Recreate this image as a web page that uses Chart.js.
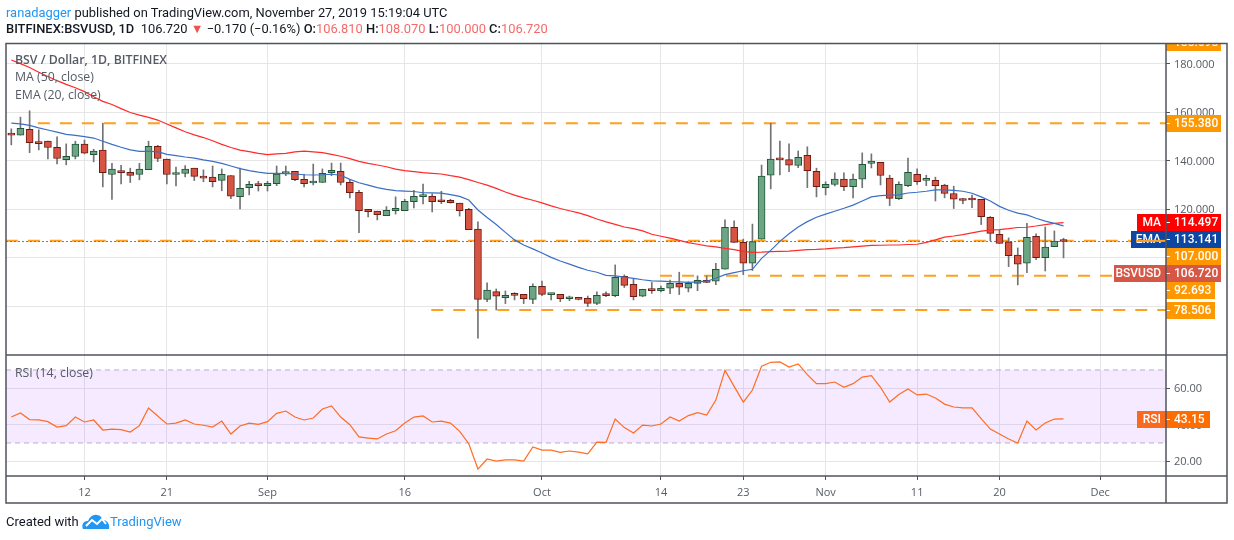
<!DOCTYPE html>
<html>
<head>
<meta charset="utf-8">
<title>BSV / Dollar</title>
<script src="https://cdn.jsdelivr.net/npm/chart.js@4"></script>
<style>
    html, body { margin: 0; padding: 0; background: #fff; }
    #wrap { position: relative; width: 1234px; height: 540px; overflow: hidden; font-family: Roboto, sans-serif; color: #131722; }
    #priceChart { position: absolute; left: 0; top: 0; }
    .line { position: absolute; left: 6px; white-space: pre; font-size: 12.9px; line-height: 16px; }
    .blue { color: #2196f3; }
    .up { color: #f56a6a; }
    b { font-weight: 500; }
    #foot { position: absolute; left: 6px; top: 513px; font-size: 13px; line-height: 18px; white-space: pre; }
    #foot svg { position: absolute; left: 76px; top: 1px; }
    #foot span { position: absolute; left: 104px; top: 0; }
</style>
</head>
<body>
<div id="wrap">
    <canvas id="priceChart" width="1234" height="540"></canvas>
    <div class="line" style="top:5px"><span class="blue">ranadagger</span> published on TradingView.com, November 27, 2019 15:19:04 UTC</div>
    <div class="line" style="top:21px"><b>BITFINEX:BSVUSD, 1D</b>  106.720 <span style="color:#ef5350">▼</span> −0.170 (−0.16%) <b>O:</b><span class="up">106.810</span> <b>H:</b><span class="up">108.070</span> <b>L:</b><span class="up">100.000</span> <b>C:</b><span class="up">106.720</span></div>
    <div id="foot">Created with<svg width="28" height="16" viewBox="0 0 28 16"><path d="M1 15 C-1 10 2 7 6 7 C8 2 12 0 15 1 C18 1 20 4 21 6 C25 6 28 10 27 15 Z" fill="#2196f3"/><path d="M4 12 L10 6 L15 10 L20 5 L24 10" fill="none" stroke="#fff" stroke-width="2"/></svg><span class="blue">TradingView</span></div>
</div>
<script>
// daily candles, 4 Aug - 27 Nov 2019
const opens = [
    151.3, 150.5, 152.9, 147.3, 148.0, 145.5, 140.4, 141.7, 146.8, 142.5,
    144.3, 134.3, 135.6, 135.2, 134.3, 136.3, 145.9, 140.6, 134.3, 134.7,
    136.9, 133.6, 133.2, 131.9, 133.9, 125.2, 128.9, 130.4, 129.7, 130.5,
    134.7, 135.6, 132.3, 130.8, 131.0, 135.1, 135.6, 131.1, 127.0, 120.0,
    119.2, 117.4, 119.4, 119.4, 123.1, 125.2, 125.3, 123.4, 123.7, 122.5,
    120.0, 111.8, 82.9, 86.1, 83.6, 84.9, 85.0, 82.9, 88.3, 84.9,
    85.0, 83.2, 83.4, 83.4, 81.3, 84.7, 84.5, 92.4, 89.1, 84.2,
    87.1, 86.5, 87.5, 89.5, 87.5, 89.5, 90.8, 90.4, 95.3, 112.6,
    106.4, 97.8, 107.7, 134.0, 140.6, 140.4, 138.0, 142.2, 135.6, 128.9,
    130.2, 132.4, 129.3, 132.4, 138.9, 139.3, 132.8, 124.4, 129.7, 134.4,
    131.9, 131.9, 129.9, 126.5, 124.1, 124.1, 124.1, 116.7, 109.7, 106.6,
    101.1, 97.8, 108.9, 100.1, 104.6, 106.81,
];
const highs = [
    153.1, 157.9, 160.5, 152.7, 148.0, 149.8, 146.9, 148.0, 148.5, 144.7,
    155.4, 138.9, 138.1, 136.9, 138.9, 148.0, 146.3, 140.6, 137.4, 138.0,
    136.9, 136.2, 137.8, 136.6, 133.9, 136.9, 131.5, 131.5, 131.5, 137.8,
    137.8, 135.6, 134.4, 138.6, 136.6, 139.0, 139.0, 132.3, 127.8, 120.0,
    119.2, 121.1, 125.1, 124.1, 127.8, 130.4, 126.4, 127.4, 124.1, 122.5,
    120.4, 114.8, 89.7, 87.2, 86.4, 85.7, 85.0, 89.3, 90.5, 85.4,
    85.0, 84.3, 83.4, 84.3, 86.0, 86.0, 97.1, 93.0, 91.3, 87.1,
    89.9, 88.4, 90.9, 94.1, 90.2, 92.6, 92.6, 97.8, 115.6, 115.2,
    107.7, 113.9, 138.2, 155.4, 148.1, 146.9, 144.0, 145.7, 136.9, 131.3,
    135.0, 135.0, 134.5, 143.2, 142.8, 139.3, 134.0, 131.3, 141.1, 136.6,
    134.0, 133.2, 130.3, 129.5, 124.5, 125.8, 124.1, 117.0, 111.4, 108.2,
    104.1, 114.2, 109.9, 112.7, 111.1, 108.07,
];
const lows = [
    146.5, 150.5, 143.3, 144.4, 140.7, 138.7, 138.3, 140.7, 142.8, 139.5,
    129.2, 124.0, 130.4, 131.0, 132.1, 136.3, 139.6, 130.4, 129.6, 133.3,
    131.8, 131.3, 129.2, 127.6, 124.4, 120.1, 125.9, 127.5, 127.5, 129.7,
    133.8, 131.8, 129.2, 130.0, 131.0, 133.8, 130.0, 124.7, 110.4, 116.8,
    115.6, 117.4, 118.0, 119.4, 120.5, 122.2, 118.9, 122.3, 122.5, 117.2,
    111.6, 67.0, 82.0, 78.6, 81.2, 82.7, 81.2, 81.2, 84.5, 82.7,
    82.0, 82.4, 82.7, 79.9, 80.7, 84.0, 84.0, 87.8, 82.7, 84.0,
    85.4, 86.0, 85.3, 84.9, 86.0, 86.5, 89.8, 89.0, 95.3, 106.4,
    93.1, 94.8, 107.7, 128.4, 134.1, 135.5, 137.1, 128.9, 125.1, 125.9,
    129.6, 127.6, 124.7, 128.9, 137.0, 130.0, 121.5, 124.0, 129.3, 130.2,
    129.7, 123.4, 124.7, 120.3, 122.3, 120.7, 113.7, 107.0, 105.9, 96.4,
    88.9, 93.9, 99.3, 94.6, 104.6, 100.0,
];
const closes = [
    150.5, 153.3, 147.4, 147.0, 145.4, 140.9, 141.8, 146.8, 143.1, 143.9,
    135.1, 136.5, 135.1, 133.9, 136.5, 145.9, 140.9, 134.3, 134.8, 136.5,
    133.5, 132.8, 131.4, 134.4, 125.4, 128.6, 130.3, 129.7, 130.7, 134.5,
    135.2, 132.2, 130.5, 131.1, 134.8, 136.0, 131.0, 126.8, 119.4, 119.0,
    117.8, 119.6, 120.4, 123.3, 125.3, 125.5, 123.1, 123.1, 122.7, 119.4,
    111.6, 82.9, 86.7, 84.2, 84.6, 84.6, 83.2, 88.3, 85.0, 85.2,
    83.2, 83.5, 82.9, 81.3, 84.6, 84.5, 92.0, 88.7, 84.0, 87.1,
    86.5, 87.5, 89.5, 87.9, 89.5, 90.8, 89.9, 95.3, 112.6, 106.4,
    97.8, 106.7, 133.6, 140.6, 140.3, 138.1, 141.4, 135.9, 129.3, 130.3,
    132.4, 129.3, 132.4, 138.5, 139.8, 133.9, 124.5, 130.3, 135.2, 131.4,
    132.4, 129.7, 126.5, 124.1, 123.6, 123.8, 117.0, 110.1, 105.9, 100.9,
    97.4, 108.5, 100.1, 104.4, 106.9, 106.72,
];
const maValues = [
    181.4, 179.9, 178.3, 176.4, 174.6, 172.9, 171.4, 170.0, 168.4, 166.3,
    164.4, 163.1, 161.4, 159.8, 158.7, 157.8, 156.7, 155.1, 153.5, 151.9,
    150.6, 149.5, 148.2, 146.7, 145.4, 144.3, 143.7, 143.0, 142.5, 142.8,
    143.0, 143.6, 143.9, 143.6, 143.3, 142.6, 141.8, 140.8, 139.7, 138.9,
    138.2, 137.5, 136.5, 135.9, 135.5, 135.1, 134.8, 134.5, 133.8, 133.2,
    132.2, 131.0, 129.9, 128.6, 127.1, 125.8, 124.7, 123.7, 122.6, 121.4,
    120.3, 119.4, 118.5, 117.4, 116.0, 114.8, 113.8, 112.7, 112.0, 111.1,
    109.7, 108.9, 108.1, 107.2, 106.3, 105.6, 104.9, 104.5, 103.9, 103.4,
    102.7, 102.3, 102.4, 102.6, 102.7, 102.8, 103.1, 103.4, 103.5, 103.7,
    104.0, 104.2, 104.5, 104.8, 105.1, 105.2, 105.3, 105.3, 105.5, 105.6,
    106.4, 107.4, 108.5, 109.0, 109.6, 110.3, 111.0, 111.4, 111.6, 112.0,
    112.5, 112.6, 113.1, 113.7, 114.2, 114.497,
];
const emaValues = [
    155.4, 155.1, 154.5, 153.5, 152.6, 151.7, 150.8, 150.4, 149.9, 149.3,
    148.0, 146.7, 145.5, 144.4, 143.8, 143.8, 143.7, 142.6, 142.1, 141.5,
    141.0, 140.3, 139.7, 138.9, 137.8, 136.7, 135.9, 135.3, 134.8, 134.8,
    134.7, 134.5, 134.2, 134.1, 134.2, 134.4, 134.0, 132.3, 130.9, 129.9,
    128.9, 128.2, 127.7, 127.5, 127.3, 126.8, 126.7, 126.6, 126.0, 125.3,
    123.8, 119.7, 116.6, 113.7, 110.5, 107.4, 105.3, 103.7, 102.0, 100.2,
    98.7, 97.4, 96.1, 94.9, 94.1, 92.8, 92.6, 92.1, 91.6, 91.0,
    90.5, 90.4, 90.2, 90.1, 89.9, 90.1, 90.4, 91.6, 93.1, 93.9,
    94.7, 95.3, 99.8, 103.1, 106.8, 109.9, 112.7, 114.9, 116.7, 118.0,
    119.2, 120.4, 121.7, 123.4, 125.1, 125.6, 125.8, 125.9, 126.7, 127.0,
    127.4, 128.0, 128.0, 127.8, 127.4, 126.6, 125.1, 123.4, 121.2, 119.6,
    118.4, 117.7, 116.3, 115.1, 114.2, 113.141,
];
const rsiValues = [
    44.2, 46.4, 42.8, 42.6, 41.7, 38.7, 39.5, 44.2, 41.5, 42.6,
    37.1, 37.6, 37.3, 36.0, 39.5, 49.2, 44.8, 40.4, 40.9, 42.6,
    40.4, 39.7, 38.7, 42.0, 34.9, 39.3, 40.9, 40.2, 41.7, 46.2,
    47.5, 44.2, 42.6, 43.7, 48.6, 50.3, 44.2, 40.0, 33.3, 32.7,
    32.2, 34.9, 36.7, 40.9, 44.2, 44.8, 41.5, 42.0, 40.9, 36.4,
    29.6, 15.7, 21.2, 20.1, 20.7, 20.7, 20.1, 27.8, 26.1, 26.1,
    24.9, 25.6, 25.0, 24.0, 30.5, 30.3, 43.1, 38.4, 35.5, 39.8,
    39.3, 40.4, 44.2, 42.0, 45.0, 46.6, 45.3, 53.5, 69.8, 61.0,
    52.4, 59.0, 72.0, 74.2, 74.4, 71.6, 73.3, 67.4, 62.5, 62.5,
    63.4, 60.5, 62.5, 66.1, 66.9, 60.5, 52.4, 56.5, 59.6, 56.3,
    56.8, 54.6, 51.3, 49.7, 49.2, 49.2, 43.3, 37.6, 34.9, 32.2,
    30.0, 42.0, 37.1, 40.9, 43.1, 43.15,
];

// horizontal levels drawn on the chart, start = candle index
const levelPrices = [155.38, 107.0, 92.693, 78.506];
const levelStarts = [2.9, -0.6, 70.9, 45.9];
const lastPrice = 106.72;

const timeTickIndex = [8, 17, 28, 43, 58, 71, 80, 89, 99, 108, 119];
const timeTickLabels = ["12", "21", "Sep", "16", "Oct", "14", "23", "Nov", "11", "20", "Dec"];
const priceTicks = [180, 160, 140, 120, 100, 80];
const rsiTicks = [60, 40, 20];
const rsiBand = [70, 30];

const xMin = -0.58;
const xMax = 126.2;
const UP = "#6ba583";
const UP_EDGE = "#225437";
const DOWN = "#d75442";
const DOWN_EDGE = "#6d1a12";
const GRID = "#e6e6e6";
const FRAME = "#50535e";
const AXIS_FONT = { family: "Open Sans", size: 11 };

// boxes on the price scale, nudged apart like the original
const priceTags = [
    { value: "188.698", top: 34, color: "#ff9800", right: 1221 },
    { value: "155.380", top: 115, color: "#ff9800", right: 1221 },
    { label: "MA", left: 1137, value: "114.497", top: 214, color: "#ff0000", right: 1221 },
    { label: "EMA", left: 1131, value: "113.141", top: 231, color: "#0d47a1", right: 1221 },
    { value: "107.000", top: 248, color: "#ff9800", right: 1221 },
    { label: "BSVUSD", left: 1114, value: "106.720", top: 265, color: "#d65745", right: 1221 },
    { value: "92.693", top: 282, color: "#ff9800", right: 1215 },
    { value: "78.506", top: 302, color: "#ff9800", right: 1215 },
    { label: "RSI", left: 1137, labelColor: "#fa6a1e", value: "43.15", top: 411, color: "#ff6d00", right: 1210 },
];

const indexes = closes.map((c, i) => i);
const isUp = closes.map((c, i) => c >= opens[i]);

const paneExtras = {
    id: "paneExtras",
    beforeDatasetsDraw(chart) {
        const { ctx, chartArea, scales } = chart;
        const top = scales.yRsi.getPixelForValue(rsiBand[0]);
        const bottom = scales.yRsi.getPixelForValue(rsiBand[1]);
        ctx.save();
        ctx.fillStyle = "rgba(153,51,255,0.1)";
        ctx.fillRect(chartArea.left, top, chartArea.right - chartArea.left, bottom - top);
        ctx.strokeStyle = "#b9aec4";
        ctx.setLineDash([5, 4]);
        [top, bottom].forEach((y) => {
            ctx.beginPath();
            ctx.moveTo(chartArea.left, y);
            ctx.lineTo(chartArea.right, y);
            ctx.stroke();
        });
        ctx.restore();
    },
    afterDatasetsDraw(chart) {
        const { ctx, chartArea, scales } = chart;
        ctx.save();
        // pane captions
        ctx.fillStyle = "#555a63";
        ctx.textBaseline = "middle";
        ctx.font = '600 12.3px "Open Sans"';
        ctx.fillText("BSV / Dollar, 1D, BITFINEX", 15, 60);
        ctx.font = '12.3px "Open Sans"';
        ctx.fillText("MA (50, close)", 15, 77);
        ctx.fillText("EMA (20, close)", 15, 95);
        ctx.fillText("RSI (14, close)", 15, 373);

        // price boxes
        ctx.beginPath();
        ctx.rect(0, chartArea.top, 1234, 500);
        ctx.clip();
        ctx.font = '500 12px Roboto';
        priceTags.forEach((t) => {
            if (t.label) {
                ctx.fillStyle = t.labelColor || t.color;
                ctx.fillRect(t.left, t.top, chartArea.right - t.left, 17);
                ctx.fillStyle = "#fff";
                ctx.textAlign = "right";
                ctx.fillText(t.label, chartArea.right - 5, t.top + 9);
            }
            ctx.fillStyle = t.color;
            ctx.fillRect(chartArea.right, t.top, t.right - chartArea.right, 17);
            ctx.fillStyle = "#fff";
            ctx.fillRect(chartArea.right, t.top + 8, 4, 1);
            ctx.textAlign = "left";
            ctx.fillText(t.value, chartArea.right + 8, t.top + 9);
        });
        // the 107 level runs over the EMA box
        ctx.strokeStyle = "#ffa01e";
        ctx.lineWidth = 2;
        ctx.beginPath();
        ctx.moveTo(1136, scales.y.getPixelForValue(levelPrices[1]));
        ctx.lineTo(chartArea.right, scales.y.getPixelForValue(levelPrices[1]));
        ctx.stroke();
        ctx.restore();

        // frame and pane dividers
        ctx.save();
        ctx.strokeStyle = FRAME;
        ctx.lineWidth = 1.5;
        ctx.strokeRect(6, 43.5, 1221, 459.5);
        const split = scales.y.bottom;
        [split, chartArea.bottom].forEach((y) => {
            ctx.beginPath();
            ctx.moveTo(6, y);
            ctx.lineTo(1227, y);
            ctx.stroke();
        });
        ctx.beginPath();
        ctx.moveTo(chartArea.right, 43);
        ctx.lineTo(chartArea.right, 503);
        ctx.stroke();
        ctx.restore();
    },
};

const levelDatasets = levelPrices.map((p, i) => ({
    type: "line",
    data: [{ x: levelStarts[i], y: p }, { x: xMax, y: p }],
    yAxisID: "y",
    borderColor: "#ffa01e",
    borderWidth: 2,
    borderDash: [12, 10],
    pointRadius: 0,
    order: 6,
}));

new Chart(document.getElementById("priceChart"), {
    type: "bar",
    data: {
        datasets: [
            ...levelDatasets,
            {
                type: "line",
                data: [{ x: xMin, y: lastPrice }, { x: xMax, y: lastPrice }],
                yAxisID: "y",
                borderColor: "#d65745",
                borderWidth: 1,
                borderDash: [2, 2],
                pointRadius: 0,
                order: 5,
            },
            {
                // wicks
                data: indexes.map((i) => ({ x: i, y: [lows[i], highs[i]] })),
                yAxisID: "y",
                backgroundColor: "#737375",
                barThickness: 1,
                grouped: false,
                order: 4,
            },
            {
                // bodies
                data: indexes.map((i) => ({ x: i, y: [opens[i], closes[i]] })),
                yAxisID: "y",
                backgroundColor: isUp.map((u) => (u ? UP : DOWN)),
                borderColor: isUp.map((u) => (u ? UP_EDGE : DOWN_EDGE)),
                borderWidth: 1,
                borderSkipped: false,
                barThickness: 7,
                minBarLength: 2,
                grouped: false,
                order: 3,
            },
            {
                type: "line",
                label: "MA",
                data: indexes.map((i) => ({ x: i, y: maValues[i] })),
                yAxisID: "y",
                borderColor: "#ff2a2a",
                borderWidth: 1.2,
                pointRadius: 0,
                order: 2,
            },
            {
                type: "line",
                label: "EMA",
                data: indexes.map((i) => ({ x: i, y: emaValues[i] })),
                yAxisID: "y",
                borderColor: "#3a6fc4",
                borderWidth: 1.2,
                pointRadius: 0,
                order: 1,
            },
            {
                type: "line",
                label: "RSI",
                data: indexes.map((i) => ({ x: i, y: rsiValues[i] })),
                yAxisID: "yRsi",
                borderColor: "#ff6d22",
                borderWidth: 1.2,
                pointRadius: 0,
                order: 1,
            },
        ],
    },
    options: {
        responsive: false,
        animation: false,
        layout: {
            autoPadding: false,
            padding: { left: 6, top: 43, right: 7, bottom: 37 },
        },
        plugins: {
            legend: { display: false },
            tooltip: { enabled: false },
        },
        scales: {
            x: {
                type: "linear",
                offset: false,
                min: xMin,
                max: xMax,
                afterBuildTicks: (s) => {
                    s.ticks = timeTickIndex.map((v) => ({ value: v }));
                },
                afterFit: (s) => {
                    s.height = 27;
                },
                border: { display: false },
                grid: { offset: false, color: GRID, tickColor: FRAME, tickLength: 4 },
                ticks: {
                    autoSkip: false,
                    maxRotation: 0,
                    padding: 6,
                    color: "#555a63",
                    font: AXIS_FONT,
                    callback: (v) => timeTickLabels[timeTickIndex.indexOf(v)],
                },
            },
            y: {
                position: "right",
                stack: "panes",
                stackWeight: 312,
                min: 60.04,
                max: 188.4,
                afterBuildTicks: (s) => {
                    s.ticks = priceTicks.map((v) => ({ value: v }));
                },
                afterFit: (s) => {
                    s.width = 61;
                },
                border: { display: false },
                grid: { color: GRID, tickColor: FRAME, tickLength: 4 },
                ticks: {
                    padding: 4,
                    labelOffset: 1,
                    color: "#555a63",
                    font: AXIS_FONT,
                    callback: (v) => v.toFixed(3),
                },
            },
            yRsi: {
                position: "right",
                stack: "panes",
                stackWeight: 121,
                min: 11.9,
                max: 78.2,
                afterBuildTicks: (s) => {
                    s.ticks = rsiTicks.map((v) => ({ value: v }));
                },
                afterFit: (s) => {
                    s.width = 61;
                },
                border: { display: false },
                grid: { color: GRID, tickColor: FRAME, tickLength: 4 },
                ticks: {
                    padding: 4,
                    labelOffset: 1,
                    color: "#555a63",
                    font: AXIS_FONT,
                    callback: (v) => v.toFixed(2),
                },
            },
        },
    },
    plugins: [paneExtras],
});
</script>
</body>
</html>
